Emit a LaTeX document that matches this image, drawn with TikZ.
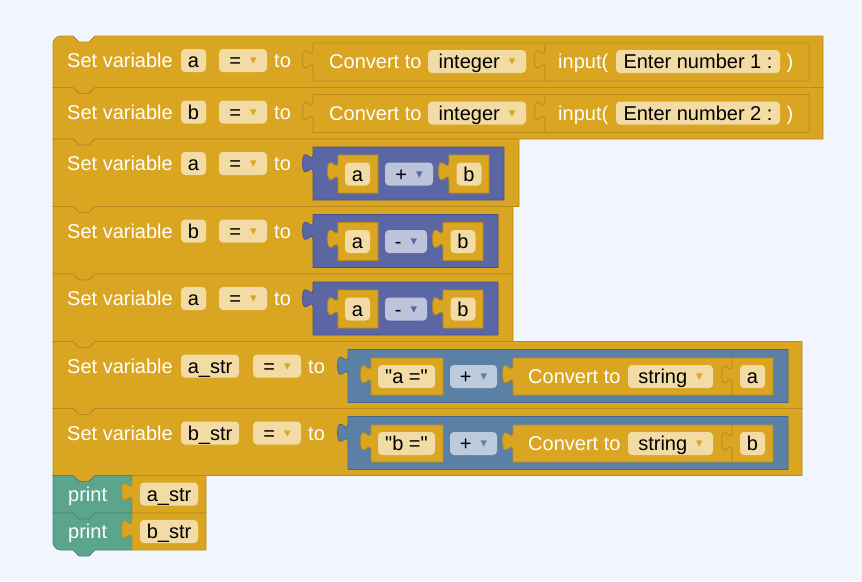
\documentclass[tikz,border=0pt]{standalone}
\usepackage{fontspec}
\setmainfont{Liberation Sans}[Ligatures=TeXOff]
\newfontfamily\symfont{DejaVu Sans}
\usepackage{tikz}

\definecolor{canvas}{HTML}{F1F6FE}
\definecolor{gold}{HTML}{DAA520}
\definecolor{goldline}{HTML}{B98B1C}
\definecolor{fieldbg}{HTML}{F2DBA4}
\definecolor{mathblue}{HTML}{5B67A5}
\definecolor{mathline}{HTML}{48528A}
\definecolor{mathdd}{HTML}{BEC3DC}
\definecolor{textblue}{HTML}{5B80A5}
\definecolor{textline}{HTML}{486889}
\definecolor{textdd}{HTML}{BDCCDC}
\definecolor{printgreen}{HTML}{5BA58C}
\definecolor{printline}{HTML}{488A73}

% dropdown arrow
\newcommand{\ddmark}[1]{\hspace{9pt}\raisebox{3pt}{\symfont\fontsize{13}{13}\selectfont\textcolor{#1}{▾}}}

% statement block: right, height, style, top-left radius, bottom-left radius
\newcommand{\stmtblk}[5]{%
  \draw[#3] (53,#4) .. controls (53,#4*0.45) and (53+#4*0.45,0) .. (53+#4,0) -- (73,0) -- (79,6) -- (89,6) -- (95,0) -- (#1,0)
    -- (#1,#2) -- (95,#2) -- (89,#2+6) -- (79,#2+6) -- (73,#2) -- (53+#5,#2)
    .. controls (53+#5*0.45,#2) and (53,#2-#5*0.45) .. (53,#2-#5) -- cycle;}

% value block with left tab: left, top, right, bottom, style
\newcommand{\valblk}[5]{%
  \draw[#5] (#1,#2) -- (#3,#2) -- (#3,#4) -- (#1,#4) -- (#1,#2+26)
    .. controls (#1,#2+13) and (#1-10.4,#2+36.4) .. (#1-10.4,#2+16.25)
    .. controls (#1-10.4,#2-3.9) and (#1,#2+19.5) .. (#1,#2+6.5) -- cycle;}

% set variable to convert(input(...))
\newcommand{\inputrow}[5]{%
  \begin{scope}[shift={(0,#1)}]
    \stmtblk{823}{51.5}{goldblk}{#5}{0}
    \node[lbl, anchor=west] (set#2) at (67,24.5) {Set variable};
    \node[fld, minimum width=25] (var#2) at (193.5,24.5) {#3};
    \node[fld, minimum width=48] (eq#2) at (243,24.5) {=\ddmark{gold}};
    \node[lbl, anchor=west] (to#2) at (274,24.5) {to};
    \valblk{313}{7}{545}{45}{goldblk}
    \node[lbl, anchor=west] (conv#2) at (329,25.5) {Convert to};
    \node[fld, minimum width=98] (type#2) at (477,25.5) {integer\ddmark{gold}};
    \valblk{545}{7}{809}{45}{goldblk}
    \node[lbl, anchor=west] (input#2) at (558,25.5) {input(};
    \node[fld, minimum width=164] (prompt#2) at (698,25.5) {#4};
    \node[lbl] (close#2) at (790,25.5) {)};
  \end{scope}}

% set variable to (x op y)
\newcommand{\mathrow}[7]{%
  \begin{scope}[shift={(0,#1)}]
    \stmtblk{519+#7}{67.5}{goldblk}{0}{0}
    \node[lbl, anchor=west] (set#2) at (67,24.5) {Set variable};
    \node[fld, minimum width=25] (var#2) at (193.5,24.5) {#3};
    \node[fld, minimum width=48] (eq#2) at (243,24.5) {=\ddmark{gold}};
    \node[lbl, anchor=west] (to#2) at (274,24.5) {to};
    \valblk{313}{8}{504+#7}{61}{mathblk}
    \valblk{338}{16}{378}{54}{goldblk}
    \node[fld, minimum width=25] (lhs#2) at (357.5,35) {#4};
    \node[ddmath, minimum width=48+#7] (op#2) at (409+#7/2,35) {#5\ddmark{mathblue}};
    \valblk{449+#7}{16}{489+#7}{54}{goldblk}
    \node[fld, minimum width=25] (rhs#2) at (469+#7,35) {#6};
  \end{scope}}

% set variable to ("x =" + str(x))
\newcommand{\strrow}[5]{%
  \begin{scope}[shift={(0,#1)}]
    \stmtblk{802}{67}{goldblk}{0}{0}
    \node[lbl, anchor=west] (set#2) at (67,24.5) {Set variable};
    \node[fld, minimum width=58] (var#2) at (210,24.5) {#3};
    \node[fld, minimum width=48] (eq#2) at (277,24.5) {=\ddmark{gold}};
    \node[lbl, anchor=west] (to#2) at (308,24.5) {to};
    \valblk{348}{8}{788}{61}{textblk}
    \valblk{371}{16.5}{443}{53.5}{goldblk}
    \node[fld, minimum width=57] (lit#2) at (406.5,35) {#4};
    \node[ddtext, minimum width=47] (plus#2) at (473.5,35) {+\ddmark{textblue}};
    \valblk{513}{16.5}{732}{53.5}{goldblk}
    \node[lbl, anchor=west] (conv#2) at (528,35) {Convert to};
    \node[fld, minimum width=85] (type#2) at (670.5,35) {string\ddmark{gold}};
    \valblk{732}{16.5}{773}{53.5}{goldblk}
    \node[fld, minimum width=25] (arg#2) at (752.5,35) {#5};
  \end{scope}}

% print(x)
\newcommand{\printrow}[5]{%
  \begin{scope}[shift={(0,#1)}]
    \stmtblk{132}{#4}{printblk}{0}{#5}
    \node[lbl, anchor=west] (print#2) at (68,18.5) {print};
    \valblk{132}{0}{206}{#4}{goldblk}
    \node[fld, minimum width=58] (arg#2) at (169,18.5) {#3};
  \end{scope}}

\begin{document}
\begin{tikzpicture}[x=1pt, y=-1pt,
    every node/.style={font=\fontsize{20}{24}\selectfont, inner sep=0pt, text height=14.3pt, text depth=0pt},
    lbl/.style={text=white},
    fld/.style={fill=fieldbg, rounded corners=4pt, minimum height=23pt, text=black},
    ddmath/.style={fld, fill=mathdd},
    ddtext/.style={fld, fill=textdd},
    goldblk/.style={fill=gold, draw=goldline, line width=0.8pt},
    mathblk/.style={fill=mathblue, draw=mathline, line width=0.8pt},
    textblk/.style={fill=textblue, draw=textline, line width=0.8pt},
    printblk/.style={fill=printgreen, draw=printline, line width=0.8pt}]

  \fill[canvas] (0,0) rectangle (862,581);

  \inputrow{36}{1}{a}{Enter number 1 :}{8}
  \inputrow{87.5}{2}{b}{Enter number 2 :}{0}
  \mathrow{139}{3}{a}{a}{+}{b}{0}
  \mathrow{206.5}{4}{b}{a}{-}{b}{-6}
  \mathrow{274}{5}{a}{a}{-}{b}{-6}
  \strrow{341.5}{6}{a\_str}{"a ="}{a}
  \strrow{408.5}{7}{b\_str}{"b ="}{b}
  \printrow{475.5}{8}{a\_str}{37.5}{0}
  \printrow{513}{9}{b\_str}{37}{8}
\end{tikzpicture}
\end{document}
